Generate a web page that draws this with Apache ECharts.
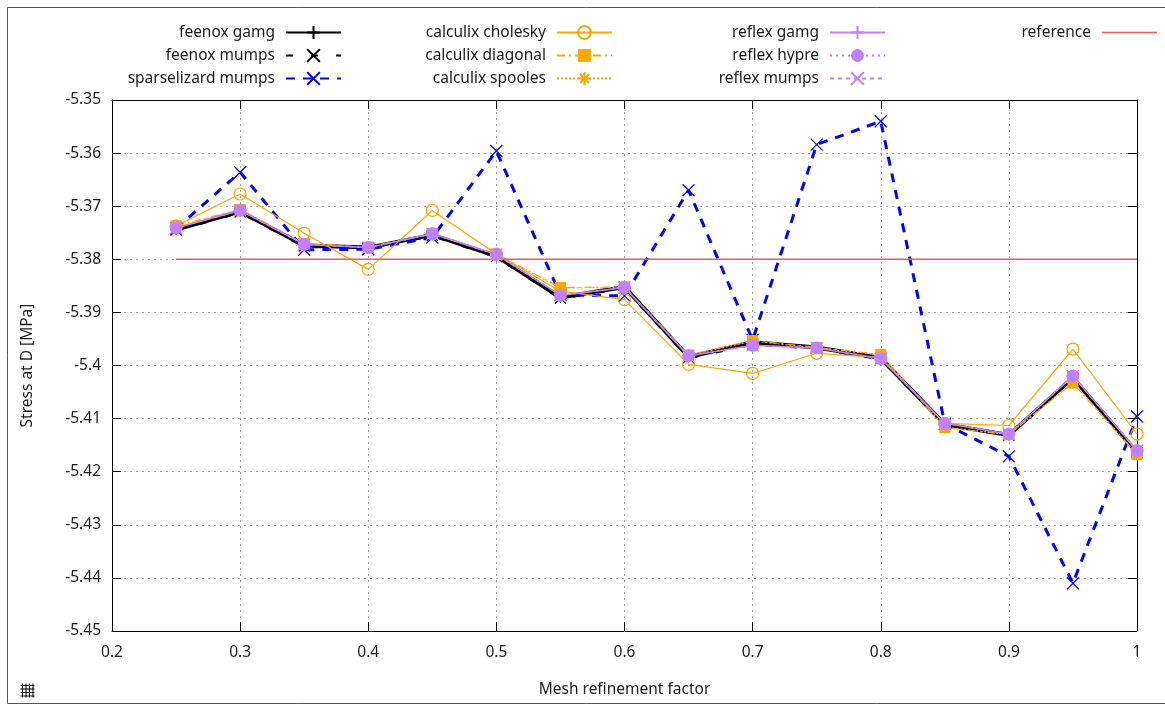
<!DOCTYPE html>
<html><head><meta charset="utf-8">
<script src="https://cdn.jsdelivr.net/npm/echarts@6/dist/echarts.min.js"></script>
<style>html,body{margin:0;padding:0;background:#fff}#c{width:1165px;height:705px}</style>
</head><body><div id="c"></div>
<script>
const xTicks = [0.2, 0.3, 0.4, 0.5, 0.6, 0.7, 0.8, 0.9, 1];
const yTicks = [-5.45, -5.44, -5.43, -5.42, -5.41, -5.4, -5.39, -5.38, -5.37, -5.36, -5.35];
const factors = [0.25, 0.3, 0.35, 0.4, 0.45, 0.5, 0.55, 0.6, 0.65, 0.7, 0.75, 0.8, 0.85, 0.9, 0.95, 1.0];

const feenoxGamg        = [-5.3744, -5.3710, -5.3774, -5.3778, -5.3754, -5.3794, -5.3872, -5.3852, -5.3984, -5.3956, -5.3966, -5.3986, -5.4111, -5.4131, -5.4023, -5.4164];
const feenoxMumps       = [-5.3745, -5.3711, -5.3775, -5.3779, -5.3755, -5.3795, -5.3873, -5.3853, -5.3985, -5.3959, -5.3967, -5.3987, -5.4111, -5.4131, -5.4024, -5.4164];
const sparselizardMumps = [-5.3742, -5.3636, -5.3782, -5.3781, -5.3759, -5.3596, -5.3867, -5.3869, -5.3670, -5.3952, -5.3584, -5.3540, -5.4110, -5.4171, -5.4410, -5.4096];
const calculixCholesky  = [-5.3737, -5.3677, -5.3751, -5.3819, -5.3708, -5.3790, -5.3860, -5.3876, -5.3998, -5.4015, -5.3977, -5.3985, -5.4109, -5.4113, -5.3969, -5.4129];
const calculixDiagonal  = [-5.3737, -5.3706, -5.3770, -5.3777, -5.3751, -5.3790, -5.3853, -5.3852, -5.3980, -5.3953, -5.3966, -5.3979, -5.4117, -5.4130, -5.4033, -5.4168];
const calculixSpooles   = [-5.3738, -5.3707, -5.3771, -5.3778, -5.3752, -5.3791, -5.3854, -5.3853, -5.3981, -5.3954, -5.3967, -5.3980, -5.4116, -5.4130, -5.4032, -5.4167];
const reflexGamg        = [-5.3741, -5.3708, -5.3772, -5.3778, -5.3752, -5.3791, -5.3868, -5.3853, -5.3982, -5.3962, -5.3967, -5.3987, -5.4109, -5.4129, -5.4020, -5.4160];
const reflexHypre       = [-5.3741, -5.3708, -5.3772, -5.3778, -5.3752, -5.3791, -5.3868, -5.3853, -5.3982, -5.3962, -5.3967, -5.3987, -5.4109, -5.4129, -5.4020, -5.4160];
const reflexMumps       = [-5.3741, -5.3708, -5.3772, -5.3778, -5.3752, -5.3791, -5.3868, -5.3853, -5.3982, -5.3962, -5.3967, -5.3987, -5.4109, -5.4129, -5.4020, -5.4160];
const referenceX = [0.25, 1.0];
const referenceY = [-5.38, -5.38];

const FONT = 'Noto Sans';
const FS = 15.5;
const PLUS = 'path://M5,0L5,10M0,5L10,5';
const CROSS = 'path://M0,0L10,10M10,0L0,10';
const STAR = 'path://M5,0L5,10M0,5L10,5M1.5,1.5L8.5,8.5M8.5,1.5L1.5,8.5';
const ORANGE = '#ffa500', PURPLE = '#c080ff', BLUE = '#0000ff', BLACK = '#000000', RED = '#ee5a5a';

function pts(xs, ys) { return xs.map((x, i) => [x, ys[i]]); }

function mk(name, ys, color, width, dash, symbol, size, filled, xs) {
  return {
    name, type: 'line', data: pts(xs || factors, ys),
    symbol, symbolSize: size, showSymbol: symbol !== 'none', showAllSymbol: true,
    lineStyle: { color, width, type: dash },
    itemStyle: filled ? { color, borderColor: color, borderWidth: 0 } : { color: 'transparent', borderColor: color, borderWidth: 1.2 },
    emphasis: { disabled: true }, animation: false
  };
}

const series = [
  mk('feenox gamg', feenoxGamg, BLACK, 4, 'solid', PLUS, 11, false),
  mk('feenox mumps', feenoxMumps, BLACK, 3.5, [7, 18], CROSS, 11, false),
  mk('sparselizard mumps', sparselizardMumps, BLUE, 3, [9, 8], CROSS, 12, false),
  mk('calculix cholesky', calculixCholesky, ORANGE, 1.2, 'solid', 'circle', 12, false),
  mk('calculix diagonal', calculixDiagonal, ORANGE, 1.2, [8, 4, 2, 4], 'rect', 11, true),
  mk('calculix spooles', calculixSpooles, ORANGE, 1.2, [2, 2], STAR, 12, false),
  mk('reflex gamg', reflexGamg, PURPLE, 1.5, 'solid', PLUS, 12, false),
  mk('reflex hypre', reflexHypre, PURPLE, 1.2, [2, 4], 'circle', 13, true),
  mk('reflex mumps', reflexMumps, PURPLE, 1.2, [4, 4], CROSS, 12, false),
  mk('reference', referenceY, RED, 1.5, 'solid', 'none', 0, true, referenceX)
];

const legendPos = [
  ['feenox gamg', 823, 0], ['feenox mumps', 823, 1], ['sparselizard mumps', 823, 2],
  ['calculix cholesky', 552, 0], ['calculix diagonal', 552, 1], ['calculix spooles', 552, 2],
  ['reflex gamg', 279, 0], ['reflex hypre', 279, 1], ['reflex mumps', 279, 2],
  ['reference', 8, 0]
];
const legends = legendPos.map(([name, right, row]) => ({
  data: [name === 'reference' ? { name, icon: 'path://M0,0L55,0L55,1.6L0,1.6Z' } : name],
  right, top: 32.5 + row * 23 - 8, orient: 'horizontal', align: 'right',
  itemWidth: 55, itemHeight: 16, padding: 0, selectedMode: false,
  textStyle: { fontFamily: FONT, fontSize: FS, color: '#1a1a1a', padding: [0, 6, 0, 0] }
}));

const axisCommon = {
  type: 'value',
  axisLine: { show: true, onZero: false, lineStyle: { color: '#000', width: 1 } },
  axisTick: { show: true, inside: true, length: 9, lineStyle: { color: '#000', width: 1 } },
  axisLabel: { fontFamily: FONT, fontSize: FS, color: '#1a1a1a' },
};

const chart = echarts.init(document.getElementById('c'), null, { renderer: 'canvas' });
chart.setOption({
  animation: false,
  backgroundColor: '#fff',
  grid: { left: 112, top: 100, width: 1025, height: 531, containLabel: false },
  legend: legends,
  xAxis: [
    Object.assign({}, axisCommon, {
      min: xTicks[0], max: xTicks[xTicks.length - 1], interval: 0.1, position: 'bottom',
      name: 'Mesh refinement factor', nameLocation: 'middle', nameGap: 51,
      nameTextStyle: { fontFamily: FONT, fontSize: FS, color: '#1a1a1a' },
      axisLabel: Object.assign({}, axisCommon.axisLabel, { margin: 14 }),
      splitLine: { show: true, lineStyle: { color: '#a0a0a0', width: 1, type: [2, 4] } }
    }),
    Object.assign({}, axisCommon, {
      min: xTicks[0], max: xTicks[xTicks.length - 1], interval: 0.1, position: 'top',
      axisLabel: { show: false }, splitLine: { show: false }
    })
  ],
  yAxis: [
    Object.assign({}, axisCommon, {
      min: yTicks[0], max: yTicks[yTicks.length - 1], interval: 0.01, position: 'left',
      name: 'Stress at D [MPa]', nameLocation: 'middle', nameGap: 76,
      nameTextStyle: { fontFamily: FONT, fontSize: FS, color: '#1a1a1a' },
      axisLabel: Object.assign({}, axisCommon.axisLabel, { margin: 11 }),
      splitLine: { show: true, lineStyle: { color: '#a0a0a0', width: 1, type: [2, 4] } }
    }),
    Object.assign({}, axisCommon, {
      min: yTicks[0], max: yTicks[yTicks.length - 1], interval: 0.01, position: 'right',
      axisLabel: { show: false }, splitLine: { show: false }
    })
  ],
  graphic: [
    { type: 'rect', silent: true, shape: { x: 7.5, y: 7.5, width: 1170, height: 696 }, style: { fill: 'none', stroke: '#555', lineWidth: 1 } },
    { type: 'group', left: 18, top: 681, silent: true, children: [
      { type: 'line', shape: { x1: 2, y1: 0, x2: 2, y2: 14 }, style: { stroke: '#000', lineWidth: 1 } },
      { type: 'line', shape: { x1: 5.5, y1: 0, x2: 5.5, y2: 14 }, style: { stroke: '#000', lineWidth: 1 } },
      { type: 'line', shape: { x1: 9, y1: 0, x2: 9, y2: 14 }, style: { stroke: '#000', lineWidth: 1 } },
      { type: 'line', shape: { x1: 12.5, y1: 0, x2: 12.5, y2: 14 }, style: { stroke: '#000', lineWidth: 1 } },
      { type: 'line', shape: { x1: 0, y1: 2, x2: 14, y2: 2 }, style: { stroke: '#000', lineWidth: 1 } },
      { type: 'line', shape: { x1: 0, y1: 5.5, x2: 14, y2: 5.5 }, style: { stroke: '#000', lineWidth: 1 } },
      { type: 'line', shape: { x1: 0, y1: 9, x2: 14, y2: 9 }, style: { stroke: '#000', lineWidth: 1 } },
      { type: 'line', shape: { x1: 0, y1: 12.5, x2: 14, y2: 12.5 }, style: { stroke: '#000', lineWidth: 1 } }
    ] }
  ],
  series
});
</script></body></html>
